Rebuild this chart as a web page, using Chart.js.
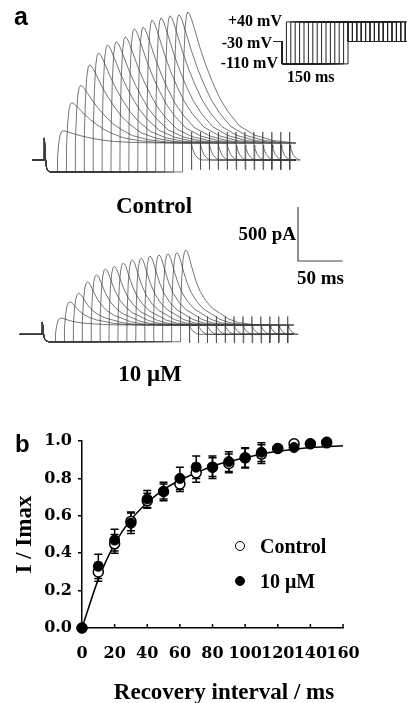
<!DOCTYPE html>
<html>
<head>
<meta charset="utf-8">
<script src="https://cdn.jsdelivr.net/npm/chart.js@4.4.1/dist/chart.umd.min.js"></script>
<style>
  html, body { margin: 0; padding: 0; background: #fff; }
  #fig { position: relative; width: 407px; height: 703px; overflow: hidden; background: #fff; }
  #fig canvas { position: absolute; }
  .lbl { position: absolute; font-family: "Liberation Serif", "Times New Roman", serif; font-weight: bold; color: #000; line-height: 1; white-space: nowrap; }
  .panel { position: absolute; font-family: "Liberation Sans", Arial, sans-serif; font-weight: bold; color: #000; line-height: 1; }
  .mark { position: absolute; width: 10px; height: 10px; border-radius: 50%; box-sizing: border-box; border: 1.5px solid #000; transform: translate(-50%, -50%); }
</style>
</head>
<body>
<div id="fig">
  <canvas id="controlChart" width="310" height="185" style="left:0;top:0"></canvas>
  <canvas id="drugChart" width="407" height="180" style="left:0;top:190px"></canvas>
  <canvas id="protocolChart" width="137" height="66" style="left:270px;top:10px"></canvas>
  <canvas id="recoveryChart" width="407" height="283" style="left:0;top:420px"></canvas>

  <div class="panel" style="left:14px;top:4px;font-size:25px">a</div>
  <div class="panel" style="left:15px;top:432px;font-size:24px">b</div>

  <div class="lbl" style="left:282px;top:21px;font-size:16px;transform:translate(-100%,-50%)">+40 mV</div>
  <div class="lbl" style="left:272px;top:43px;font-size:16px;transform:translate(-100%,-50%)">-30 mV</div>
  <div class="lbl" style="left:278px;top:63px;font-size:16px;transform:translate(-100%,-50%)">-110 mV</div>
  <div class="lbl" style="left:287px;top:77px;font-size:16px;transform:translate(0,-50%)">150 ms</div>

  <div class="lbl" style="left:154px;top:205px;font-size:23px;transform:translate(-50%,-50%)">Control</div>
  <div class="lbl" style="left:296px;top:233px;font-size:19px;transform:translate(-100%,-50%)">500 pA</div>
  <div class="lbl" style="left:297px;top:277px;font-size:19px;transform:translate(0,-50%)">50 ms</div>
  <div class="lbl" style="left:150px;top:373px;font-size:23px;transform:translate(-50%,-50%)">10 μM</div>

  <div class="mark" style="left:240px;top:546px;background:#fff"></div>
  <div class="lbl" style="left:260px;top:546px;font-size:20px;transform:translate(0,-50%)">Control</div>
  <div class="mark" style="left:240px;top:581px;background:#000"></div>
  <div class="lbl" style="left:260px;top:581px;font-size:20px;transform:translate(0,-50%)">10 μM</div>
</div>

<script>
// ---- panel b: recovery from inactivation ----
const recoveryMs = [0, 10, 20, 30, 40, 50, 60, 70, 80, 90, 100, 110, 120, 130, 140, 150];
const controlFraction = [0, 0.30, 0.45, 0.57, 0.68, 0.73, 0.77, 0.83, 0.86, 0.88, 0.91, 0.93, 0.96, 0.985, 0.985, 0.99];
const controlSem = [0, 0.05, 0.05, 0.05, 0.04, 0.04, 0.04, 0.05, 0.05, 0.05, 0.05, 0.05, 0.015, 0.01, 0.01, 0.01];
const drugFraction = [0, 0.33, 0.47, 0.56, 0.69, 0.73, 0.80, 0.86, 0.86, 0.89, 0.91, 0.94, 0.96, 0.965, 0.985, 0.995];
const drugSem = [0, 0.065, 0.058, 0.055, 0.045, 0.05, 0.06, 0.06, 0.06, 0.053, 0.054, 0.05, 0.015, 0.015, 0.01, 0.01];
const fitMs = [0, 10, 20, 30, 40, 50, 60, 70, 80, 90, 100, 110, 120, 130, 140, 150, 160];
const fitFraction = [0, 0.26, 0.45, 0.58, 0.67, 0.74, 0.79, 0.83, 0.865, 0.89, 0.91, 0.93, 0.945, 0.955, 0.965, 0.97, 0.975];

// ---- panel a: current traces (ms, pA) ----
const testOnsetMs = [15, 25, 35, 45, 55, 65, 75, 85, 95, 105, 115, 125, 135, 145, 155];
const testPulseMs = 150;
const recordEndMs = 282;
const controlPeakPa = [270, 530, 690, 880, 990, 1065, 1095, 1140, 1215, 1230, 1295, 1315, 1335, 1345, 1370];
const drugPeakPa = [150, 300, 380, 485, 550, 605, 630, 660, 690, 705, 725, 735, 745, 755, 780];
const controlHyperPa = -111, controlSteadyPa = 157;
const drugHyperPa = -69, drugSteadyPa = 86;
const controlHoldStartMs = -13, drugHoldStartMs = -25;

// transient at the step to -110 mV
const prepulseMs = [0.4, 1.5, 3, 5, 8];
const controlPrepulsePa = [204, 20, -80, -105, -111];
const drugPrepulsePa = [114, 10, -45, -64, -69];
// activation (fraction of the way from -110 mV level to peak)
const riseMs = [0, 0.3, 1.5, 3, 4.5, 6];
const riseFrac = [0, 0.35, 0.7, 0.9, 0.98, 1];
// inactivation after the peak (fraction of peak above steady level)
const controlDecayMs = [0, 2, 4, 8, 14, 21, 28, 36, 45, 58, 75, 95, 120];
const controlDecayFrac = [1, 0.985, 0.95, 0.86, 0.72, 0.58, 0.46, 0.34, 0.24, 0.13, 0.06, 0.02, 0];
const drugDecayMs = [0, 1.5, 3, 5, 8, 11, 16, 22, 30, 38, 48, 60, 80];
const drugDecayFrac = [1, 0.98, 0.94, 0.85, 0.72, 0.6, 0.45, 0.33, 0.22, 0.16, 0.08, 0.03, 0];
// transient at the end of the test pulse
const endMs = [0, 0.3, 0.7, 1.2, 4, 8, 12];
const controlEndPa = [260, -90, 140, 110, 50, 12, 0];
const drugEndPa = [165, -80, 80, 62, 28, 6, 0];

const scaleBarMs = 50, scaleBarPa = 500;

// ---- voltage protocol (inset) ----
const holdMv = -30, recoveryMv = -110, testMv = 40;
const protocolLeadMs = -20, protocolTestMs = 140, protocolEndMs = 300;

// layout: how data units map to page pixels
const PX_PER_MS = 0.893, PA_PER_PX = 9.26;

function range(origin, size, perPx) {
  return [-origin * perPx, (size - origin) * perPx];
}

function buildTrace(k, p) {
  const onset = testOnsetMs[k];
  const peak = p.peaks[k];
  const pts = [{ x: p.holdStart, y: 0 }, { x: 0, y: 0 }];
  prepulseMs.forEach((t, i) => pts.push({ x: t, y: p.prepulse[i] }));
  pts.push({ x: onset, y: p.hyper });
  riseMs.forEach((t, i) => pts.push({ x: onset + t, y: p.hyper + riseFrac[i] * (peak - p.hyper) }));
  const tPeak = onset + riseMs[riseMs.length - 1];
  p.decayMs.forEach((t, i) => {
    if (i === 0) return;
    pts.push({ x: tPeak + t, y: p.steady + p.decayFrac[i] * (peak - p.steady) });
  });
  const tEnd = onset + testPulseMs;
  if (tEnd < recordEndMs) {
    pts.push({ x: tEnd, y: p.steady });
    endMs.forEach((t, i) => pts.push({ x: tEnd + t, y: p.endPa[i] }));
    pts.push({ x: recordEndMs, y: 0 });
  } else {
    pts.push({ x: recordEndMs, y: p.steady });
  }
  return pts;
}

function traceSets(p) {
  return testOnsetMs.map((_, k) => ({
    data: buildTrace(k, p),
    borderColor: 'rgba(60,60,60,0.7)',
    borderWidth: 1,
    pointRadius: 0,
    tension: 0
  }));
}

function plainOptions(xr, yr) {
  return {
    responsive: false,
    animation: false,
    events: [],
    plugins: { legend: { display: false }, tooltip: { enabled: false } },
    scales: {
      x: { type: 'linear', display: false, min: xr[0], max: xr[1] },
      y: { type: 'linear', display: false, min: yr[0], max: yr[1] }
    }
  };
}

// control traces: canvas 310x185 at (0,0); t=0 at x=44, 0 pA at y=160
const ctrlX = range(44, 310, 1 / PX_PER_MS);
const ctrlY = range(185 - 160, 185, PA_PER_PX);
new Chart(document.getElementById('controlChart'), {
  type: 'line',
  data: {
    datasets: traceSets({
      peaks: controlPeakPa, hyper: controlHyperPa, steady: controlSteadyPa,
      holdStart: controlHoldStartMs, prepulse: controlPrepulsePa,
      decayMs: controlDecayMs, decayFrac: controlDecayFrac, endPa: controlEndPa
    })
  },
  options: plainOptions(ctrlX, ctrlY)
});

// 10 uM traces: canvas 407x180 at (0,190); t=0 at x=42, 0 pA at page y=334.3
const drugX = range(42, 407, 1 / PX_PER_MS);
const drugY = range(180 - 144.3, 180, PA_PER_PX);
const barT = (298 - 42) / PX_PER_MS;
const barBase = (334.3 - 261) * PA_PER_PX;
const drugSets = traceSets({
  peaks: drugPeakPa, hyper: drugHyperPa, steady: drugSteadyPa,
  holdStart: drugHoldStartMs, prepulse: drugPrepulsePa,
  decayMs: drugDecayMs, decayFrac: drugDecayFrac, endPa: drugEndPa
});
drugSets.push({
  data: [{ x: barT, y: barBase + scaleBarPa }, { x: barT, y: barBase }, { x: barT + scaleBarMs, y: barBase }],
  borderColor: '#444',
  borderWidth: 1.2,
  pointRadius: 0,
  tension: 0
});
new Chart(document.getElementById('drugChart'), {
  type: 'line',
  data: { datasets: drugSets },
  options: plainOptions(drugX, drugY)
});

// protocol inset: canvas 137x66 at (270,10); t=0 at page x=282, -30 mV at page y=41.5
const PX_PER_MS_INSET = 0.44, PX_PER_MV = 0.28;
const protX = range(282 - 270, 137, 1 / PX_PER_MS_INSET);
const protYr = range(66 - (41.5 - 10), 66, 1 / PX_PER_MV);
const protocolSets = recoveryMs.slice(1).map(d => ({
  data: [
    { x: protocolLeadMs, y: holdMv }, { x: 0, y: holdMv }, { x: 0, y: recoveryMv },
    { x: d, y: recoveryMv }, { x: d, y: testMv }, { x: d + protocolTestMs, y: testMv },
    { x: d + protocolTestMs, y: holdMv }, { x: protocolEndMs, y: holdMv }
  ],
  borderColor: '#222',
  borderWidth: 1,
  pointRadius: 0,
  tension: 0
}));
new Chart(document.getElementById('protocolChart'), {
  type: 'line',
  data: { datasets: protocolSets },
  options: plainOptions(protX, [protYr[0] + holdMv, protYr[1] + holdMv])
});

// ---- panel b chart ----
const errorBars = {
  id: 'errorBars',
  beforeDatasetsDraw(chart) {
    const { ctx, scales: { x, y } } = chart;
    ctx.save();
    ctx.strokeStyle = '#000';
    ctx.lineWidth = 1.5;
    [[controlFraction, controlSem], [drugFraction, drugSem]].forEach(([vals, errs]) => {
      recoveryMs.forEach((t, i) => {
        if (!errs[i]) return;
        const px = x.getPixelForValue(t);
        const top = y.getPixelForValue(vals[i] + errs[i]);
        const bot = y.getPixelForValue(vals[i] - errs[i]);
        ctx.beginPath();
        ctx.moveTo(px, top); ctx.lineTo(px, bot);
        ctx.moveTo(px - 4, top); ctx.lineTo(px + 4, top);
        ctx.moveTo(px - 4, bot); ctx.lineTo(px + 4, bot);
        ctx.stroke();
      });
    });
    ctx.restore();
  }
};

const innerTicks = {
  id: 'innerTicks',
  afterDraw(chart) {
    const { ctx, scales: { x }, chartArea } = chart;
    ctx.save();
    ctx.strokeStyle = '#000';
    ctx.lineWidth = 1.5;
    x.ticks.forEach(t => {
      const px = x.getPixelForValue(t.value);
      ctx.beginPath();
      ctx.moveTo(px, chartArea.bottom);
      ctx.lineTo(px, chartArea.bottom - 4);
      ctx.stroke();
    });
    ctx.restore();
  }
};

const tickFont = { family: 'DejaVu Serif', weight: 'bold', size: 16 };
const titleFont = { family: 'Liberation Serif', weight: 'bold', size: 23 };

new Chart(document.getElementById('recoveryChart'), {
  type: 'line',
  data: {
    datasets: [
      {
        label: '10 μM',
        data: recoveryMs.map((t, i) => ({ x: t, y: drugFraction[i] })),
        showLine: false,
        pointRadius: 5,
        pointBackgroundColor: '#000',
        pointBorderColor: '#000',
        pointBorderWidth: 1,
        clip: false
      },
      {
        label: 'Control',
        data: recoveryMs.map((t, i) => ({ x: t, y: controlFraction[i] })),
        showLine: false,
        pointRadius: 5,
        pointBackgroundColor: '#fff',
        pointBorderColor: '#000',
        pointBorderWidth: 1.5,
        clip: false
      },
      {
        label: 'fit',
        data: fitMs.map((t, i) => ({ x: t, y: fitFraction[i] })),
        borderColor: '#000',
        borderWidth: 1.5,
        pointRadius: 0,
        cubicInterpolationMode: 'monotone',
        clip: false
      }
    ]
  },
  options: {
    responsive: false,
    animation: false,
    events: [],
    layout: { padding: { left: 0, right: 64, top: 21, bottom: 0 } },
    plugins: { legend: { display: false }, tooltip: { enabled: false } },
    scales: {
      x: {
        type: 'linear', min: 0, max: 160,
        ticks: { stepSize: 20, font: tickFont, color: '#000', padding: 16, maxRotation: 0, autoSkip: false },
        grid: { display: false, drawTicks: false },
        border: { display: true, color: '#000', width: 1.5 },
        title: { display: true, text: '    Recovery interval / ms', font: { ...titleFont, lineHeight: 0.9 }, color: '#000', padding: 0 },
        afterFit: s => { s.height = 75; }
      },
      y: {
        type: 'linear', min: 0, max: 1,
        ticks: { stepSize: 0.2, font: tickFont, color: '#000', padding: 6, callback: v => v.toFixed(1) },
        grid: { display: true, drawOnChartArea: false, drawTicks: true, tickLength: 4, color: '#000', lineWidth: 1.5 },
        border: { display: true, color: '#000', width: 1.5 },
        title: { display: true, text: 'I / Imax', font: titleFont, color: '#000', padding: { top: 11, bottom: 0 } },
        afterFit: s => { s.width = 82; }
      }
    }
  },
  plugins: [errorBars, innerTicks]
});
</script>
</body>
</html>
